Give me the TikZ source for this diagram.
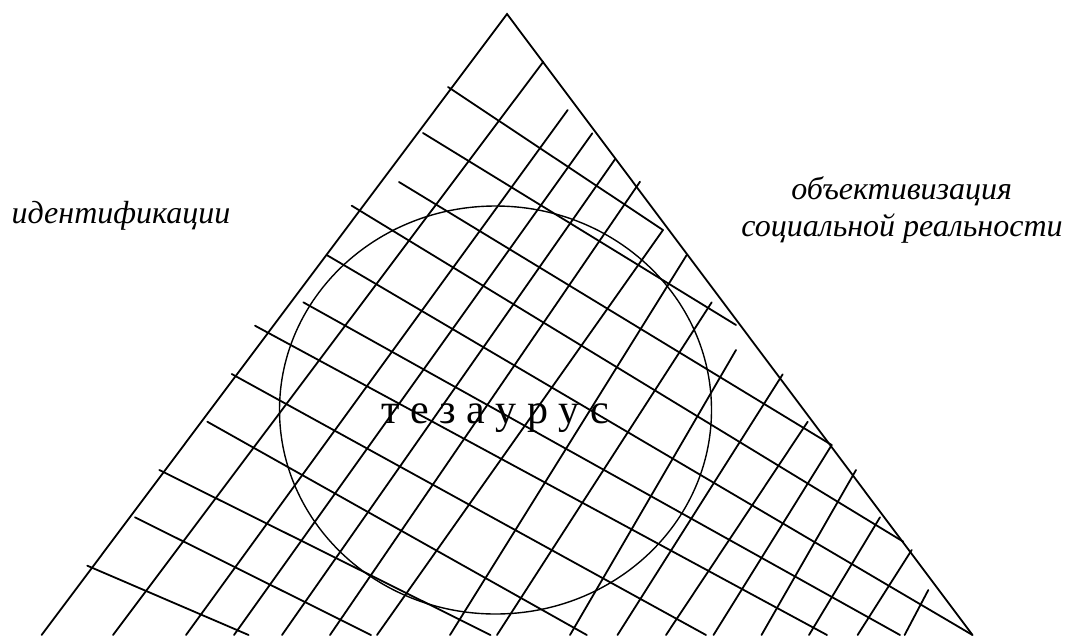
\documentclass[tikz,border=0pt]{standalone}
\usepackage{fontspec}
\setmainfont{Liberation Serif}
\begin{document}
\begin{tikzpicture}[x=1pt,y=-1pt,
  ln/.style={line width=1.8pt, line cap=round},
  ring/.style={line width=1.4pt},
  lab/.style={font=\fontsize{32}{38}\selectfont\itshape, inner sep=0pt},
  ctr/.style={font=\fontsize{42}{50}\selectfont, inner sep=0pt}]
\useasboundingbox (0,0) rectangle (1068,635);
\begin{scope}
\clip (0,0) rectangle (1068,635);
% triangle
\coordinate (apex) at (507,14);
\coordinate (bl) at (41.6,635);
\coordinate (br) at (972.5,635);
\draw[ln] (bl) -- (apex) -- (br);
% hatching lines going down-right
\foreach \ax/\ay/\bx/\by in {
  448/87/663/230,
  423/133/736/325,
  399/182/831.7/445,
  351.7/205.7/903.3/541.7,
  326.7/255/972.5/635,
  303.3/302.3/900/635,
  255/325.7/827/635,
  231.7/374/706/635,
  207.3/421.7/586.8/635,
  159.3/470/490.5/635,
  135/517.3/371/635,
  87.3/565.7/248.6/635}
  \draw[ln] (\ax,\ay) -- (\bx,\by);
% hatching lines going down-left
\foreach \ax/\ay/\bx/\by in {
  543.3/61.7/113/635,
  567.7/110/186/635,
  592.3/133.3/234/635,
  615/159.3/282/635,
  640/181.7/330/635,
  663/230/377/635,
  686.7/255/450/635,
  711.7/302.3/497/635,
  736/350/570/635,
  782.7/374.3/617.5/635,
  807.7/421.7/666/635,
  831.7/445/713.5/635,
  856/470/761.5/635,
  880/517.3/809/635,
  911.7/550/857.6/635,
  928.3/590/904.6/635}
  \draw[ln] (\ax,\ay) -- (\bx,\by);
% circle
\draw[ring] (495.5,410) ellipse [x radius=216, y radius=204];
\end{scope}
% labels
\node[lab, anchor=base] (ident) at (121,223.3) {идентификации};
\node[lab, anchor=base] (obj1) at (901.7,199) {объективизация};
\node[lab, anchor=base] (obj2) at (902,236) {социальной реальности};
\node[ctr, anchor=base] (thes) at (495,423.3) {т е з а у р у с};
\end{tikzpicture}
\end{document}
